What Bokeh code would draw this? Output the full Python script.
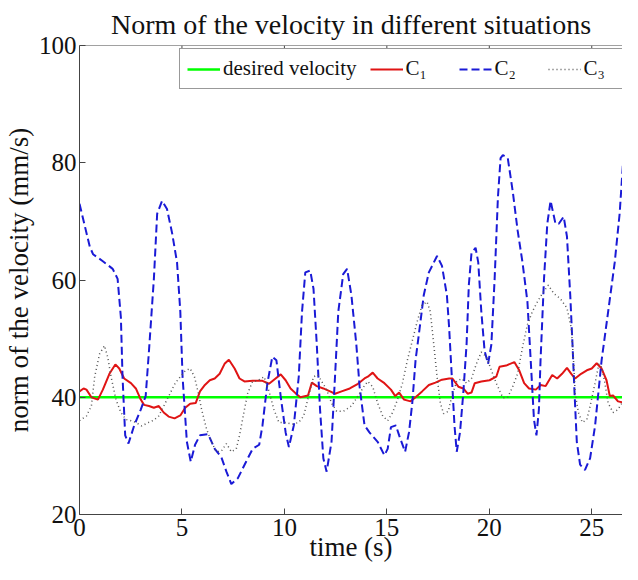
from bokeh.plotting import figure
from bokeh.models import Legend, LegendItem, FixedTicker, Range1d, Span
from bokeh.embed import file_html
from bokeh.resources import INLINE

# ---- data ----
desired_t = [0, 27]
desired_v = [40, 40]

t1 = [0, 0.2, 0.34, 0.58, 0.9, 1.14, 1.46, 1.75, 1.94, 2.18, 2.51, 2.75, 2.99, 3.15, 3.39,
      3.63, 3.87, 4.11, 4.35, 4.64, 4.92, 5.16, 5.4, 5.67, 5.88, 6.12, 6.36, 6.6, 6.84, 7.08,
      7.29, 7.57, 7.81, 8.05, 8.45, 8.93, 9.25, 9.57, 9.82, 10.06, 10.3, 10.54, 10.78, 11.15,
      11.34, 11.58, 11.9, 12.23, 12.47, 12.79, 13.19, 13.59, 13.91, 14.07, 14.31, 14.55, 14.88,
      15.2, 15.41, 15.6, 15.84, 16.16, 16.4, 16.72, 17.05, 17.37, 17.69, 18.04, 18.2, 18.49,
      18.73, 18.94, 19.13, 19.29, 19.61, 20.01, 20.34, 20.5, 20.82, 21.22, 21.46, 21.7, 21.94,
      22.27, 22.51, 22.75, 23.07, 23.31, 23.55, 23.79, 24.0, 24.19, 24.48, 24.76, 25.0, 25.24,
      25.48, 25.72, 25.88, 26.04, 26.28, 26.52, 26.75]
c1 = [41.0, 41.5, 41.3, 40.0, 39.6, 41.3, 44.0, 45.6, 44.9, 43.2, 42.4, 41.5, 39.6, 38.7, 38.5,
      38.2, 38.5, 37.4, 36.7, 36.4, 36.9, 38.2, 38.9, 39.0, 41.0, 42.1, 42.9, 43.2, 44.0, 45.7,
      46.4, 44.9, 43.2, 42.7, 42.8, 42.8, 42.3, 43.2, 43.9, 42.9, 41.5, 40.7, 40.0, 40.3,
      42.5, 41.9, 41.5, 41.0, 40.6, 41.0, 41.5, 42.3, 43.2, 43.5, 44.2, 43.2, 42.4,
      41.3, 40.2, 40.8, 39.6, 39.3, 40.0, 41.0, 42.1, 42.5, 43.0, 43.2, 43.2, 41.8,
      41.5, 40.6, 40.8, 42.4, 42.7, 42.9, 43.5, 45.2, 45.4, 46.0, 44.6, 42.4, 41.5,
      41.3, 42.1, 41.9, 43.8, 43.2, 44.0, 45.0, 44.0, 43.2, 44.0, 44.6, 44.9, 45.8,
      44.9, 42.9, 40.2, 40.3, 39.3, 39.1, 39.5]

t2 = [0, 0.5, 0.66, 1.14, 1.62, 1.86, 2.02, 2.1, 2.23, 2.39, 2.67, 2.99, 3.23, 3.39, 3.63,
      3.79, 4.03, 4.27, 4.52, 4.76, 4.92, 5.03, 5.24, 5.43, 5.64, 5.88, 6.28, 6.6, 6.92, 7.17,
      7.41, 7.73, 8.13, 8.45, 8.77, 8.93, 9.17, 9.41, 9.61, 9.82, 10.06, 10.22, 10.46, 10.7,
      10.86, 11.02, 11.26, 11.42, 11.58, 11.74, 11.9, 12.06, 12.3, 12.47, 12.63, 12.87, 13.06,
      13.27, 13.51, 13.67, 13.91, 14.15, 14.55, 14.88, 15.04, 15.2, 15.44, 15.6, 15.89, 16.08,
      16.24, 16.4, 16.64, 16.8, 17.05, 17.45, 17.69, 17.93, 18.04, 18.17, 18.3, 18.41, 18.57,
      18.73, 18.89, 19.0, 19.13, 19.33, 19.46, 19.61, 19.77, 19.94, 20.1, 20.26, 20.42, 20.55,
      20.66, 20.9, 21.14, 21.38, 21.62, 21.86, 22.02, 22.18, 22.3, 22.42, 22.5, 22.67, 22.83,
      22.99, 23.23, 23.39, 23.63, 23.79, 23.95, 24.06, 24.16, 24.27, 24.43, 24.67, 24.92,
      25.16, 25.48, 25.8, 26.12, 26.36, 26.52, 26.68, 26.8]
c2 = [73.0, 65.7, 64.4, 63.2, 61.9, 60.2, 53.6, 43.5, 33.5, 32.1, 35.2, 37.9, 40.2, 47.9, 60.2,
      71.3, 73.5, 72.1, 68.0, 63.0, 54.6, 43.5, 32.4, 29.0, 31.9, 33.5, 33.7, 31.2, 29.8, 27.3,
      25.2, 26.2, 29.0, 31.2, 31.9, 35.2, 42.4, 46.9, 46.3, 40.1, 34.0, 31.5, 35.2, 43.5,
      54.6, 61.3, 61.6, 58.5, 49.0, 37.9, 29.6, 27.3, 32.4, 43.5, 54.6, 61.0, 61.9,
      57.4, 49.0, 41.8, 35.2, 34.0, 32.4, 30.1, 31.2, 34.9, 35.2, 33.5, 30.7, 34.0,
      39.0, 46.3, 52.9, 57.4, 61.3, 64.1, 62.4, 57.4, 51.8, 43.5, 35.2, 30.7, 34.0,
      40.7, 49.0, 59.1, 64.6, 65.5, 63.0, 54.6, 47.9, 45.7, 49.0, 60.2, 74.1, 80.8,
      81.3, 80.8, 75.2, 68.5, 63.0, 56.3, 46.3, 36.2, 33.5, 37.9, 46.3, 60.2, 69.6,
      73.5, 69.6, 69.6, 70.8, 67.4, 57.4, 49.0, 40.7, 32.4, 28.5, 27.6, 29.6,
      35.1, 46.3, 54.6, 63.0, 71.3, 79.7, 86.3, 88.0]

t3 = [0, 0.34, 0.58, 0.74, 0.98, 1.22, 1.38, 1.54, 1.78, 2.02, 2.27, 2.51, 2.75, 3.04, 3.31,
      3.63, 3.87, 4.11, 4.43, 4.67, 4.92, 5.16, 5.4, 5.61, 5.8, 5.96, 6.2, 6.44, 6.68, 6.92,
      7.17, 7.41, 7.65, 7.81, 8.05, 8.21, 8.45, 8.69, 9.01, 9.25, 9.49, 9.73, 10.06, 10.38,
      10.7, 10.94, 11.18, 11.42, 11.63, 11.82, 12.06, 12.3, 12.55, 12.87, 13.27, 13.59, 13.91,
      14.07, 14.31, 14.55, 14.8, 15.04, 15.28, 15.52, 15.76, 16.0, 16.24, 16.48, 16.72, 16.96,
      17.12, 17.29, 17.45, 17.61, 17.77, 18.0, 18.17, 18.41, 18.65, 18.89, 19.13, 19.37, 19.61,
      19.86, 20.1, 20.34, 20.66, 20.9, 21.14, 21.38, 21.62, 21.86, 22.1, 22.35, 22.59, 22.88,
      23.15, 23.47, 23.79, 24.0, 24.11, 24.19, 24.35, 24.54, 24.76, 24.92, 25.16, 25.35, 25.5,
      25.64, 25.8, 26.04, 26.28, 26.52, 26.75]
c3 = [36.0, 36.8, 38.5, 43.5, 47.4, 48.8, 46.8, 43.5, 39.6, 37.4, 36.2, 36.0, 35.7, 35.1, 35.6,
      36.1, 36.8, 38.5, 40.7, 42.4, 43.5, 44.5, 44.9, 43.5, 40.7, 37.9, 34.6, 32.4, 30.7, 30.8,
      32.1, 30.7, 31.2, 33.5, 37.9, 40.7, 42.7, 42.8, 43.5, 41.0, 37.9, 35.7, 35.7, 35.4,
      35.7, 36.8, 40.2, 43.5, 43.8, 42.7, 41.3, 39.0, 37.6, 37.6, 38.5, 40.2, 42.0,
      42.7, 41.8, 39.0, 36.8, 36.0, 37.4, 39.6, 42.4, 46.3, 49.6, 52.9, 55.7, 56.3,
      54.6, 49.0, 43.5, 39.0, 37.2, 37.6, 40.2, 42.7, 43.2, 42.4, 43.2, 45.7, 47.7,
      46.9, 44.6, 42.4, 39.9, 40.0, 41.8, 44.0, 48.5, 52.4, 54.6, 56.3, 57.7, 59.1,
      57.7, 56.8, 55.2, 51.8, 46.3, 40.7, 37.4, 35.7, 36.2, 38.5, 42.4, 45.7, 45.0,
      42.4, 39.0, 37.4, 37.9, 39.3, 40.3]

x_ticks = [0, 5, 10, 15, 20, 25]
y_ticks = [20, 40, 60, 80, 100]
title_text = "Norm of the velocity in different situations"
x_label = "time (s)"
y_label = "norm of the velocity (mm/s)"
legend_labels = ["desired velocity", "C\u2081", "C\u2082", "C\u2083"]

FONT = "Liberation Serif"
AX = "#444444"
Y_MIN, Y_MAX = 20, 100
TOP_TICK_LEN = 1.0  # in y units (~6 px)

p = figure(width=622, height=564, x_range=Range1d(0, 26.5), y_range=Range1d(Y_MIN, Y_MAX),
           output_backend="svg", toolbar_location=None, title=title_text,
           min_border_left=0, min_border_right=0, min_border_top=0, min_border_bottom=0,
           background_fill_color="white", border_fill_color="white")
p.outline_line_color = None
p.grid.visible = False

p.title.text_font = FONT
p.title.text_font_size = "28px"
p.title.text_font_style = "normal"
p.title.align = "center"
p.title.text_color = "#111111"
p.title.standoff = 12

def style_axis(ax, ticks):
    ax.ticker = FixedTicker(ticks=ticks)
    ax.major_tick_in = 6
    ax.major_tick_out = 0
    ax.minor_tick_in = 0
    ax.minor_tick_out = 0
    ax.axis_line_color = AX
    ax.axis_line_width = 1
    ax.major_tick_line_color = AX
    ax.major_label_text_font = FONT
    ax.major_label_text_font_size = "25px"
    ax.major_label_text_color = "#111111"
    ax.axis_label_text_font = FONT
    ax.axis_label_text_font_size = "27px"
    ax.axis_label_text_font_style = "normal"
    ax.axis_label_text_color = "#111111"

style_axis(p.xaxis[0], x_ticks)
style_axis(p.yaxis[0], y_ticks)
p.xaxis.axis_label = x_label
p.yaxis.axis_label = y_label
p.xaxis.major_label_standoff = 4
p.xaxis.axis_label_standoff = -7
p.yaxis.major_label_standoff = 3
p.yaxis.axis_label_standoff = 2

# top border of the box with inward ticks
p.add_layout(Span(location=Y_MAX, dimension="width", line_color=AX, line_width=1))
p.segment(x0=x_ticks, y0=[Y_MAX] * len(x_ticks), x1=x_ticks,
          y1=[Y_MAX - TOP_TICK_LEN] * len(x_ticks), line_color=AX, line_width=1)

r_des = p.line(desired_t, desired_v, line_color="#00FF00", line_width=2.5)
r1 = p.line(t1, c1, line_color="#E01414", line_width=2)
r2 = p.line(t2, c2, line_color="#1A1AD6", line_width=2, line_dash="8 4")
r3 = p.line(t3, c3, line_color="#555555", line_width=1.5, line_dash="1 3")

legend = Legend(items=[LegendItem(label=legend_labels[0], renderers=[r_des]),
                       LegendItem(label=legend_labels[1], renderers=[r1]),
                       LegendItem(label=legend_labels[2], renderers=[r2]),
                       LegendItem(label=legend_labels[3], renderers=[r3])],
                orientation="horizontal", location=(100, 425))
legend.label_text_font = FONT
legend.label_text_font_size = "21px"
legend.label_text_color = "#111111"
legend.glyph_width = 33
legend.glyph_height = 24
legend.label_height = 24
legend.label_width = 40
legend.label_standoff = 3
legend.spacing = 13
legend.padding = 7
legend.margin = 0
legend.border_line_color = "#333333"
legend.border_line_width = 1
legend.background_fill_color = "white"
legend.background_fill_alpha = 1
p.add_layout(legend)

open("out.html", "w").write(file_html(p, INLINE))
